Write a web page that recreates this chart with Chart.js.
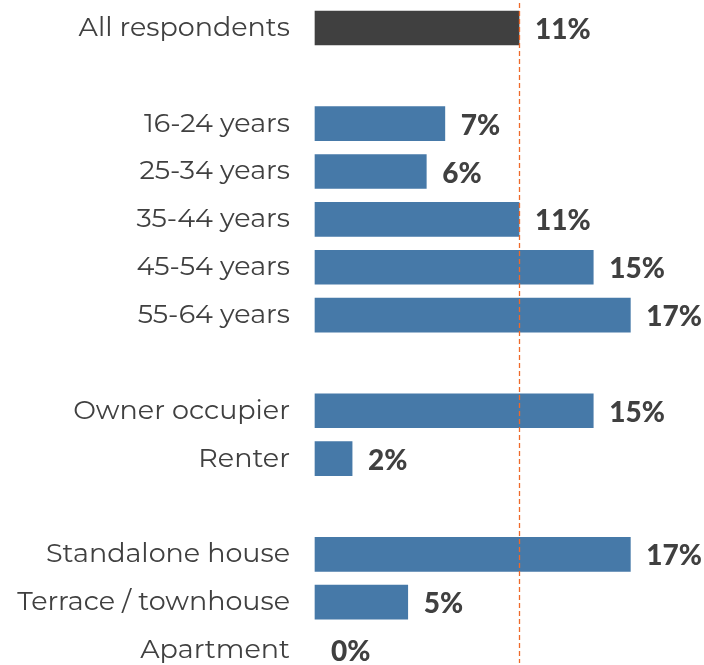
<!DOCTYPE html>
<html>
<head>
<meta charset="utf-8">
<script src="https://cdn.jsdelivr.net/npm/chart.js@4/dist/chart.umd.min.js"></script>
<style>
  html,body{margin:0;padding:0;background:#fff;}
  #wrap{width:704px;height:665px;}
</style>
</head>
<body>
<div id="wrap"><canvas id="c"></canvas></div>
<script>
// categories (blank strings are the gaps between groups)
const categories=['All respondents','','16-24 years','25-34 years','35-44 years','45-54 years','55-64 years','',
  'Owner occupier','Renter','','Standalone house','Terrace / townhouse','Apartment'];
const values=[11,null,7,6,11,15,17,null,15,2,null,17,5,0];
const referenceValue=11;

const barColors=values.map((v,i)=>i===0?'#404040':(v?'#4679a8':'rgba(0,0,0,0)'));

/* value labels to the right of each bar */
const valueLabels={
  id:'valueLabels',
  afterDatasetsDraw(chart){
    const ctx=chart.ctx;
    const meta=chart.getDatasetMeta(0);
    ctx.save();
    ctx.font='900 28px Lato';
    ctx.fillStyle='#404040';
    ctx.textAlign='left';ctx.textBaseline='middle';
    meta.data.forEach((bar,i)=>{
      if(values[i]===null)return;
      ctx.fillText(values[i]+'%',bar.x+16,bar.y+2);
    });
    ctx.restore();
  }
};

/* dashed reference line at the all-respondents value */
const refLine={
  id:'refLine',
  afterDatasetsDraw(chart){
    const ctx=chart.ctx;
    const x=Math.round(chart.scales.x.getPixelForValue(referenceValue))+0.5;
    ctx.save();
    ctx.strokeStyle='#ee6a2a';ctx.lineWidth=1.3;ctx.setLineDash([5,3]);
    ctx.beginPath();ctx.moveTo(x,3);ctx.lineTo(x,chart.height-2);ctx.stroke();
    ctx.restore();
  }
};

new Chart(document.getElementById('c'),{
  type:'bar',
  data:{labels:categories,datasets:[{
    data:values,backgroundColor:barColors,barThickness:34,clip:false
  }]},
  plugins:[valueLabels,refLine],
  options:{
    indexAxis:'y',responsive:true,maintainAspectRatio:false,animation:false,
    layout:{padding:{top:28,bottom:15,right:18,left:0}},
    plugins:{legend:{display:false},tooltip:{enabled:false}},
    scales:{
      x:{display:false,min:0,max:20},
      y:{offset:false,grid:{display:false,drawTicks:false},border:{display:false},
        afterFit(s){s.width=315;s.paddingTop=0;s.paddingBottom=0;},
        ticks:{padding:25,color:'#404040',font:{family:'Montserrat, "Open Sans"',size:27}}}
    }
  }
});
</script>
</body>
</html>
